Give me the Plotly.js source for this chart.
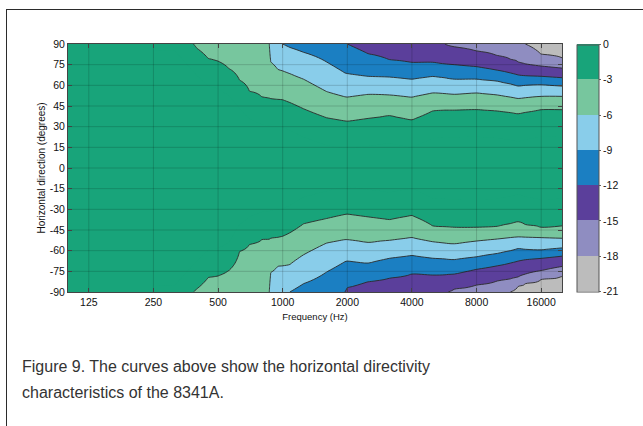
<!DOCTYPE html>
<html><head><meta charset="utf-8">
<script src="https://cdn.plot.ly/plotly-3.0.1.min.js"></script>
<style>
html,body{margin:0;padding:0;background:#fff;}
#wrap{position:relative;width:643px;height:426px;overflow:hidden;background:#fff;}
#chart{position:absolute;left:0;top:0;width:643px;height:426px;}
#frame{position:absolute;left:6px;top:9px;width:700px;height:500px;border-top:1.5px solid #2b2b2b;border-left:1.5px solid #2b2b2b;pointer-events:none;}
#caption{position:absolute;left:22px;top:354px;font-family:'Liberation Sans',Arial,sans-serif;font-size:16px;line-height:25.6px;color:#333;white-space:nowrap;}
</style></head>
<body><div id="wrap"><div id="chart"></div><div id="frame"></div>
<div id="caption">Figure 9. The curves above show the horizontal directivity<br>characteristics of the 8341A.</div></div>
<script>
// ---------------- data ----------------
const freqHz = [100,125,160,200,250,315,384,400,450,500,560,630,700,800,866,880,950,1000,1080,1250,1600,1950,2000,2500,3150,4000,5000,5700,5900,6300,8000,10000,11500,12500,13500,16000,20000];
// angle (deg) where each level contour sits in each frequency column; null = level not reached inside +/-90
const up3  = [null,null,null,null,null,null,90,86.7,79.5,77.5,72.3,63.7,55.7,51.5,50.6,50.3,49.8,49.5,47.5,43,36.5,34.2,34,36,38,35,41.5,42,42,42,42.5,41.5,40.3,39.5,40.5,42.5,42.5];
const up6  = [null,null,null,null,null,null,null,null,null,null,null,null,null,null,90,77,71.5,70.5,68.5,64.5,55.5,51.7,51.5,53.5,53,51.5,54.5,54,53.8,53.5,54.5,53,51.5,50.5,51,52,52];
const up9  = [null,null,null,null,null,null,null,null,null,null,null,null,null,null,null,null,null,90,87.5,84,77,69,68.5,66.5,66,64.5,66.5,65.5,65,64.5,64.5,63,61,59.5,60,60.5,59.5];
const up12 = [null,null,null,null,null,null,null,null,null,null,null,null,null,null,null,null,null,null,null,null,null,91,90,83,78.5,76.5,76.5,75.5,75.3,75,73.5,71,69,67.5,67,66.5,65.5];
const up15 = [null,null,null,null,null,null,null,null,null,null,null,null,null,null,null,null,null,null,null,null,null,null,null,null,null,null,null,90,89,88,85,81.5,79,77,75.5,74,72.5];
const up18 = [null,null,null,null,null,null,null,null,null,null,null,null,null,null,null,null,null,null,null,null,null,null,null,null,null,null,null,null,null,null,null,null,null,null,90,82.5,80];
const lo3  = [null,null,null,null,null,null,-90,-87.5,-79.5,-78.3,-74.5,-60.5,-55.4,-52,-51.5,-51,-50.3,-49.5,-47,-40.5,-36.7,-33.7,-33.5,-35.5,-37.5,-34.5,-42,-42.7,-42.8,-43,-43,-42.5,-40.5,-39,-41,-43,-42];
const lo6  = [null,null,null,null,null,null,null,null,null,null,null,null,null,null,-90,-76,-71.3,-71,-70,-63,-54.5,-52,-52,-54,-52.5,-50.5,-53.5,-54.5,-54.8,-55,-53,-51.5,-50.5,-50,-50.2,-50.5,-51];
const lo9  = [null,null,null,null,null,null,null,null,null,null,null,null,null,null,null,null,null,null,-90,-84,-75.5,-68,-67.5,-69,-65.5,-63.5,-65.5,-66,-66.3,-66.5,-64.5,-62,-60,-58.5,-59,-59.5,-58];
const lo12 = [null,null,null,null,null,null,null,null,null,null,null,null,null,null,null,null,null,null,null,null,null,-90,-87,-82.5,-80,-77,-77.5,-77.3,-77.2,-77,-73.5,-71,-69,-67.5,-66.5,-65.5,-64];
const lo15 = [null,null,null,null,null,null,null,null,null,null,null,null,null,null,null,null,null,null,null,null,null,null,null,null,null,null,null,null,-90,-88,-85,-82,-80.5,-79,-77,-74.5,-71.5];
const lo18 = [null,null,null,null,null,null,null,null,null,null,null,null,null,null,null,null,null,null,null,null,null,null,null,null,null,null,null,null,null,null,null,null,-90,-86,-84,-81,-78.5];

const levelsDb = [-3,-6,-9,-12,-15,-18,-21];
const xTickVals = [125,250,500,1000,2000,4000,8000,16000];
const xTickText = ['125','250','500','1000','2000','4000','8000','16000'];
const yTickVals = [-90,-75,-60,-45,-30,-15,0,15,30,45,60,75,90];
const yTickText = ['-90','-75','-60','-45','-30','-15','0','15','30','45','60','75','90'];
const cbTickVals = [0,-3,-6,-9,-12,-15,-18,-21];
const cbTickText = ['0','-3','-6','-9','-12','-15','-18','-21'];
const bandColors = ['#bcbcbc','#8f8dc1','#5b3f9b','#1b7fc2','#89cdea','#77c69e','#18a47a']; // -21..-18 ... -3..0
const X_MIN = 100, X_MAX = 20000, Y_MIN = -90, Y_MAX = 90;

// ---------------- build z table from the boundary arrays ----------------
const upSets = [up3,up6,up9,up12,up15,up18];
const loSets = [lo3,lo6,lo9,lo12,lo15,lo18];
function bounds(sets, i){
  const b = []; let prev = 0;
  levelsDb.forEach((lv,j)=>{
    let v = (j < sets.length) ? sets[j][i] : null;
    v = (v === null || v === undefined) ? Math.max(prev + 20, 105) : Math.abs(v);
    b.push(v); prev = v;
  });
  return b;
}
function knots(b, z0){
  const k = [[0, z0]];
  b.forEach((v,j)=>k.push([v, levelsDb[j]]));
  return k;
}
function evalK(k, a){
  for (let j=1;j<k.length;j++){
    if (a <= k[j][0]) { const a0=k[j-1][0], z0=k[j-1][1], a1=k[j][0], z1=k[j][1]; return z0 + (z1-z0)*(a-a0)/(a1-a0); }
  }
  return k[k.length-1][1];
}
const angles = []; for (let a=Y_MIN; a<=Y_MAX; a+=1) angles.push(a);
const upK = [], loK = [];
freqHz.forEach((f,i)=>{
  const bu = bounds(upSets,i), bl = bounds(loSets,i);
  const zc = -3 + 0.15*(bu[0] + bl[0])/2;   // centre value keeps a similar slope on both sides of -3
  upK.push(knots(bu, zc)); loK.push(knots(bl, zc));
});
const z = angles.map(a => freqHz.map((f,i)=> a>=0 ? evalK(upK[i], a) : evalK(loK[i], -a)));

// stepped colorscale
const cs = [];
const edges = [0, 2.5/14, 4.5/14, 6.5/14, 8.5/14, 10.5/14, 12.5/14, 1];
bandColors.forEach((c,k)=>{ cs.push([edges[k], c]); cs.push([edges[k+1], c]); });

const fontFam = "'Liberation Sans', Arial, Helvetica, sans-serif";

const fillTrace = {
  type:'contour', x:freqHz, y:angles, z:z, zmin:-21, zmax:0,
  autocontour:false, contours:{start:-21, end:0, size:3, coloring:'fill', showlines:false},
  colorscale:cs, line:{width:0, smoothing:1}, hoverinfo:'skip',
  colorbar:{x:1.0304, xanchor:'left', xref:'paper', y:0.5, yanchor:'middle', yref:'paper',
    thickness:22, thicknessmode:'pixels', len:247, lenmode:'pixels', xpad:0, ypad:0,
    outlinewidth:1, outlinecolor:'#555', tickvals:cbTickVals, ticktext:cbTickText,
    ticks:'outside', ticklen:2, tickcolor:'#666', tickfont:{size:10.5, color:'#111', family:fontFam}}
};
const lineTrace = {
  type:'contour', x:freqHz, y:angles, z:z, showscale:false, autocontour:false,
  contours:{start:-18, end:-3, size:3, coloring:'none', showlines:true},
  line:{color:'#2a2a2a', width:0.9, smoothing:1}, hoverinfo:'skip'
};
const gx=[], gy=[];
xTickVals.forEach(v=>{ gx.push(v,v,null); gy.push(Y_MIN,Y_MAX,null); });
yTickVals.filter(v=>v>Y_MIN && v<Y_MAX).forEach(v=>{ gx.push(X_MIN,X_MAX,null); gy.push(v,v,null); });
const gridTrace = {type:'scatter', mode:'lines', x:gx, y:gy, line:{color:'rgba(0,0,0,0.16)', width:1}, hoverinfo:'skip', showlegend:false};

const layout = {
  width:643, height:426, margin:{l:68, r:81, t:44, b:134, pad:0},
  paper_bgcolor:'rgba(0,0,0,0)', plot_bgcolor:'#fff', showlegend:false,
  font:{family:fontFam, size:10.5, color:'#111'},
  xaxis:{type:'log', range:[Math.log10(X_MIN), Math.log10(X_MAX)], tickvals:xTickVals, ticktext:xTickText,
    ticks:'inside', ticklen:4, tickcolor:'#444', showline:true, linecolor:'#444', linewidth:1, mirror:'ticks',
    showgrid:false, zeroline:false, tickfont:{size:10.5}, title:{text:'Frequency (Hz)', font:{size:9.5}, standoff:6}},
  yaxis:{range:[Y_MIN, Y_MAX], tickvals:yTickVals, ticktext:yTickText,
    ticks:'inside', ticklen:4, tickcolor:'#444', showline:true, linecolor:'#444', linewidth:1, mirror:'ticks',
    showgrid:false, zeroline:false, tickfont:{size:10.5}, title:{text:'Horizontal direction (degrees)', font:{size:10}, standoff:2}}
};
Plotly.newPlot('chart', [fillTrace, lineTrace, gridTrace], layout, {staticPlot:true, displayModeBar:false});
</script></body></html>
